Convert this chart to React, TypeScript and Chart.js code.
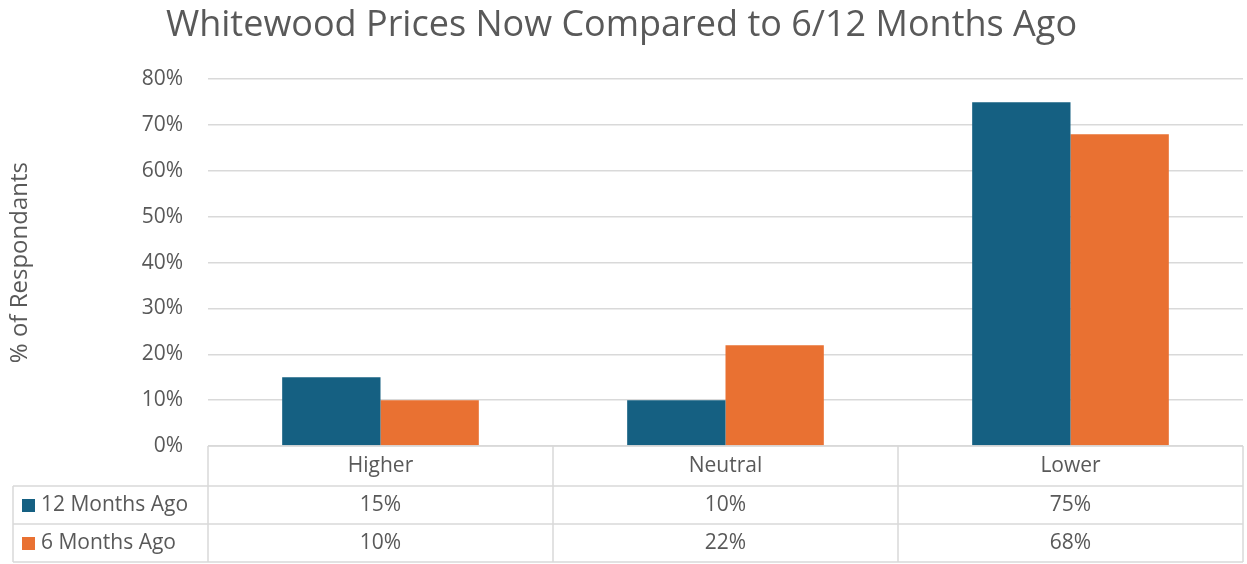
import React, { useEffect, useRef } from "react";
import { Chart, registerables } from "chart.js";

Chart.register(...registerables);

const categories = ["Higher", "Neutral", "Lower"];
const seriesNames = ["12 Months Ago", "6 Months Ago"];
const months12 = [15, 10, 75];
const months6 = [10, 22, 68];
const yTickMax = 80;
const yTickStep = 10;
const titleText = "Whitewood Prices Now Compared to 6/12 Months Ago";
const yAxisTitle = "% of Respondants";

const BLUE = "#156082";
const ORANGE = "#E97132";
const GRAY_TEXT = "#595959";
const GRID = "#d9d9d9";
const FONT = "'Open Sans', 'Noto Sans', sans-serif";

const dataTablePlugin = {
  id: "dataTable",
  afterDraw(chart: any) {
    const ctx = chart.ctx;
    const area = chart.chartArea;
    const xScale = chart.scales.x;
    const n = categories.length;
    const colW = (area.right - area.left) / n;
    const rowTop = area.bottom;
    const rowH = [40, 38, 38];
    const y0 = rowTop;
    const y1 = y0 + rowH[0];
    const y2 = y1 + rowH[1];
    const y3 = y2 + rowH[2];
    const legendLeft = 13;

    ctx.save();
    ctx.strokeStyle = GRID;
    ctx.lineWidth = 1.5;
    ctx.beginPath();
    ctx.moveTo(area.left, y0);
    ctx.lineTo(area.right, y0);
    ctx.moveTo(legendLeft, y1);
    ctx.lineTo(area.right, y1);
    ctx.moveTo(legendLeft, y2);
    ctx.lineTo(area.right, y2);
    ctx.moveTo(legendLeft, y3);
    ctx.lineTo(area.right, y3);
    ctx.moveTo(legendLeft, y1);
    ctx.lineTo(legendLeft, y3);
    for (let i = 0; i <= n; i++) {
      const x = area.left + i * colW;
      ctx.moveTo(x, y0);
      ctx.lineTo(x, y3);
    }
    ctx.stroke();

    ctx.fillStyle = GRAY_TEXT;
    ctx.font = `21px ${FONT}`;
    ctx.textAlign = "center";
    ctx.textBaseline = "middle";
    const series = [months12, months6];
    for (let i = 0; i < n; i++) {
      const cx = xScale.getPixelForValue(i);
      ctx.fillText(categories[i], cx, (y0 + y1) / 2);
      ctx.fillText(series[0][i] + "%", cx, (y1 + y2) / 2);
      ctx.fillText(series[1][i] + "%", cx, (y2 + y3) / 2);
    }
    const colors = [BLUE, ORANGE];
    const rows = [[y1, y2], [y2, y3]];
    ctx.textAlign = "left";
    for (let s = 0; s < 2; s++) {
      const cy = (rows[s][0] + rows[s][1]) / 2;
      ctx.fillStyle = colors[s];
      ctx.fillRect(22, cy - 6, 13, 13);
      ctx.fillStyle = GRAY_TEXT;
      ctx.fillText(seriesNames[s], 41, cy);
    }
    ctx.restore();
  },
};

export default function App() {
  const ref = useRef<HTMLCanvasElement | null>(null);
  useEffect(() => {
    if (!ref.current) return;
    const chart = new Chart(ref.current, {
      type: "bar",
      data: {
        labels: categories,
        datasets: [
          { label: seriesNames[0], data: months12, backgroundColor: BLUE, borderWidth: 0 },
          { label: seriesNames[1], data: months6, backgroundColor: ORANGE, borderWidth: 0 },
        ],
      },
      options: {
        responsive: false,
        animation: false,
        devicePixelRatio: 1,
        layout: { padding: { left: 0, right: 4, top: 0, bottom: 118 } },
        datasets: { bar: { categoryPercentage: 0.57, barPercentage: 1 } },
        plugins: {
          legend: { display: false },
          tooltip: { enabled: false },
          title: {
            display: true,
            text: titleText,
            color: GRAY_TEXT,
            font: { family: FONT, size: 36, weight: "normal" },
            padding: { top: 4, bottom: 32 },
          },
        },
        scales: {
          x: { display: false },
          y: {
            min: 0,
            max: yTickMax,
            ticks: {
              stepSize: yTickStep,
              color: GRAY_TEXT,
              font: { family: FONT, size: 21 },
              padding: 25,
              callback: (v: any) => v + "%",
            },
            grid: { color: GRID, lineWidth: 1.5, drawTicks: false },
            border: { display: false },
            title: {
              display: true,
              text: yAxisTitle,
              color: GRAY_TEXT,
              font: { family: FONT, size: 24 },
              padding: { top: 6, bottom: 0 },
            },
            afterFit: (s: any) => {
              s.width = 208;
            },
          },
        },
      },
      plugins: [dataTablePlugin],
    });
    return () => chart.destroy();
  }, []);
  return (
    <div style={{ position: "fixed", left: 0, top: 0, width: 1247, height: 564, background: "#fff" }}>
      <canvas ref={ref} width={1247} height={564} style={{ display: "block" }} />
    </div>
  );
}
